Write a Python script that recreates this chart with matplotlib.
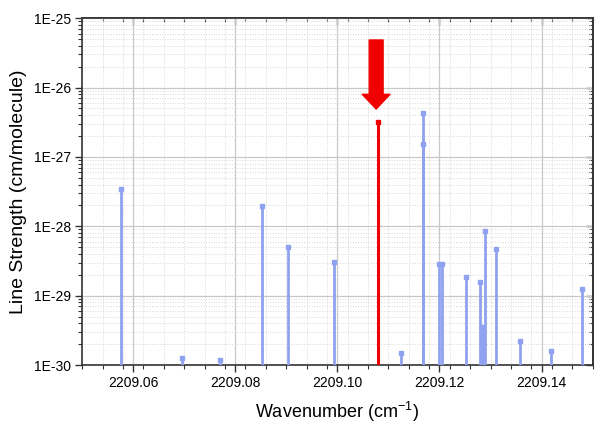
import math
import matplotlib.pyplot as plt
from matplotlib.ticker import FixedLocator, NullFormatter, FuncFormatter

plt.rcParams['font.family'] = ['Liberation Sans', 'DejaVu Sans']

# line positions (cm-1) and strengths (cm/molecule)
wn = [2209.0576, 2209.0695, 2209.0771, 2209.0852, 2209.0904, 2209.0994,
      2209.1124, 2209.1168, 2209.1168, 2209.1199, 2209.1204, 2209.1251,
      2209.1280, 2209.1283, 2209.1286, 2209.1290, 2209.1311, 2209.1358,
      2209.1418, 2209.1479]
strength = [3.4e-28, 1.26e-30, 1.2e-30, 1.94e-28, 5.1e-29, 3.1e-29,
            1.5e-30, 4.3e-27, 1.54e-27, 2.9e-29, 2.9e-29, 1.86e-29,
            1.57e-29, 3.56e-30, 3.5e-30, 8.6e-29, 4.75e-29, 2.24e-30,
            1.57e-30, 1.26e-29]
target_wn = 2209.1080
target_s = 3.2e-27

xmajor = [2209.06, 2209.08, 2209.10, 2209.12, 2209.14]
xminor = [2209.05 + 0.004 * i for i in range(26)]
ymajor = [1e-30, 1e-29, 1e-28, 1e-27, 1e-26, 1e-25]
yminor = [m * d for d in ymajor[:-1] for m in range(2, 10)]

blue = '#8fa2f0'
red = '#f00000'

fig = plt.figure(figsize=(5.95, 4.23), dpi=100)
ax = fig.add_axes([0.138, 0.137, 0.858, 0.820])
ax.set_yscale('log')
ax.set_xlim(2209.05, 2209.15)
ax.set_ylim(1e-30, 1e-25)

ax.vlines(wn, 1e-31, strength, color=blue, lw=2, zorder=3)
ax.plot(wn, strength, 's', color=blue, ms=3.5, zorder=3)
ax.vlines([target_wn], 1e-31, [target_s], color=red, lw=2.2, zorder=4)
ax.plot([target_wn], [target_s], 's', color=red, ms=3.5, zorder=4)

# marker arrow above the target line
ax.annotate('', xy=(target_wn - 0.0004, 4.9e-27), xytext=(target_wn - 0.0004, 4.85e-26),
            arrowprops=dict(arrowstyle='simple,head_length=0.85,head_width=1.6,tail_width=0.8',
                            color=red, mutation_scale=12.5, shrinkA=0, shrinkB=0),
            zorder=5)

ax.xaxis.set_major_locator(FixedLocator(xmajor))
ax.xaxis.set_minor_locator(FixedLocator(xminor))
ax.xaxis.set_major_formatter(FuncFormatter(lambda v, p: f'{v:.2f}'))
ax.yaxis.set_major_locator(FixedLocator(ymajor))
ax.yaxis.set_minor_locator(FixedLocator(yminor))
ax.yaxis.set_minor_formatter(NullFormatter())
ax.yaxis.set_major_formatter(FuncFormatter(lambda v, p: f'1E-{-int(round(math.log10(v)))}'))

ax.grid(True, which='major', color='#c8c8c8', lw=0.9, ls='-')
ax.grid(True, which='minor', color='#d8d8d8', lw=0.7, ls=':')
ax.set_axisbelow(True)

ax.tick_params(which='both', direction='out', labelsize=10, color='#333333', pad=3)
ax.tick_params(which='major', length=5, width=1)
ax.tick_params(which='minor', length=3, width=0.8)
for s in ax.spines.values():
    s.set_linewidth(1.2)
    s.set_color('#333333')

# inward ticks on top and right
top = ax.secondary_xaxis('top')
top.xaxis.set_major_locator(FixedLocator(xmajor))
top.xaxis.set_minor_locator(FixedLocator(xminor))
top.tick_params(which='both', direction='in', labeltop=False, color='#333333')
top.tick_params(which='major', length=5, width=1)
top.tick_params(which='minor', length=3, width=0.8)
right = ax.secondary_yaxis('right')
right.yaxis.set_major_locator(FixedLocator(ymajor))
right.yaxis.set_minor_locator(FixedLocator(yminor))
right.tick_params(which='both', direction='in', labelright=False, color='#333333')
right.tick_params(which='major', length=5, width=1)
right.tick_params(which='minor', length=3, width=0.8)
for sec in (top, right):
    for s in sec.spines.values():
        s.set_linewidth(1.2)
        s.set_color('#333333')

ax.set_xlabel('Wavenumber (cm$^{\\mathregular{-1}}$)', fontsize=13, labelpad=7)
ax.set_ylabel('Line Strength (cm/molecule)', fontsize=14, labelpad=5)

fig.savefig('out.png', dpi=100)
